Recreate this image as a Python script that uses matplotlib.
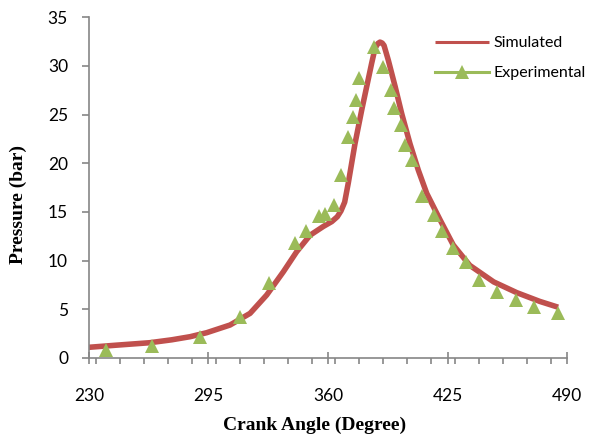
import matplotlib
matplotlib.use("Agg")
import matplotlib.pyplot as plt
from matplotlib.ticker import MultipleLocator

# simulated pressure trace
sim_angle = [230, 245, 263, 275, 285, 294, 306.7, 317.6, 326.6, 335.7, 342.9, 350.2,
             357.4, 362, 365, 367, 369, 371, 374.6, 378.3, 381, 383.7, 385.5, 387,
             388.2, 389.4, 390.4, 392.7, 396.4, 400, 404.5, 409, 413.6, 420.8, 428,
             437, 450, 462.5, 475, 485]
sim_pressure = [1.08, 1.3, 1.55, 1.85, 2.17, 2.58, 3.37, 4.57, 6.45, 8.85, 10.9, 12.6,
                13.5, 14.0, 14.5, 15.1, 16.0, 18.0, 22.0, 25.5, 27.9, 30.3, 31.8, 32.3,
                32.45, 32.35, 32.1, 30.6, 27.9, 25.1, 22.0, 19.3, 16.9, 14.2, 11.6,
                9.5, 7.8, 6.7, 5.8, 5.2]

# experimental points
exp_angle = [239.1, 264.1, 290.4, 312.1, 328.0, 342.0, 348.0, 355.2, 358.3, 363.2,
             367.0, 371.0, 373.4, 375.2, 376.8, 385.0, 390.0, 394.0, 395.8, 399.8,
             401.8, 405.8, 410.9, 417.7, 421.7, 428.0, 434.9, 442.0, 451.6, 461.9,
             471.9, 484.8]
exp_pressure = [0.8, 1.21, 2.17, 4.22, 7.65, 11.77, 13.06, 14.57, 14.78, 15.7,
                18.79, 22.72, 24.72, 26.5, 28.8, 31.97, 29.9, 27.5, 25.7, 23.9,
                21.9, 20.3, 16.6, 14.7, 13.0, 11.25, 9.8, 8.0, 6.8, 5.94,
                5.25, 4.64]

x_ticks = [230, 295, 360, 425, 490]
y_ticks = [0, 5, 10, 15, 20, 25, 30, 35]

red = "#C0504D"
green = "#9BBB59"
grey = "#868686"
tick_font = "Lato"

fig = plt.figure(figsize=(5.93, 4.43), dpi=100)
ax = fig.add_axes([0.1499, 0.1923, 0.8068, 0.7687])

ax.plot(sim_angle, sim_pressure, color=red, lw=4, label="Simulated",
        solid_capstyle="butt", solid_joinstyle="round", zorder=2)
ax.plot(exp_angle, exp_pressure, color=green, lw=0, marker="^", markersize=10,
        markeredgewidth=0, label="Experimental", zorder=3)

ax.set_xlim(230, 490)
ax.set_ylim(0, 35)
ax.set_xticks(x_ticks)
ax.set_yticks(y_ticks)
ax.xaxis.set_minor_locator(MultipleLocator(13))

for side in ["top", "right"]:
    ax.spines[side].set_visible(False)
for side in ["left", "bottom"]:
    ax.spines[side].set_color(grey)
    ax.spines[side].set_linewidth(1.2)

ax.tick_params(axis="x", which="major", direction="inout", length=8, width=1.2,
               color=grey, pad=18, labelsize=12.5)
ax.tick_params(axis="x", which="minor", direction="out", length=4, width=1.2,
               color=grey)
ax.tick_params(axis="y", direction="out", length=5, width=1.2, color=grey,
               pad=10, labelsize=12.5)
for lab in ax.get_xticklabels() + ax.get_yticklabels():
    lab.set_fontfamily(tick_font)

fig.text(315 / 593, 1 - 425 / 443, "Crank Angle (Degree)", ha="center", va="center",
         family="Liberation Serif", weight="bold", fontsize=14)
fig.text(18 / 593, 1 - 205 / 443, "Pressure (bar)", ha="center", va="center",
         rotation=90, family="Liberation Serif", weight="bold", fontsize=14)

leg = ax.legend(loc="upper left", bbox_to_anchor=(427 / 593, 1 - 28 / 443),
                bbox_transform=fig.transFigure, frameon=False,
                prop={"family": tick_font, "size": 11.5}, handlelength=3.4,
                handletextpad=0.25, labelspacing=1.0, borderpad=0)
leg.legend_handles[0].set_linewidth(2.2)
leg.legend_handles[1].set_linewidth(2.2)

fig.savefig("out.png", dpi=100)
